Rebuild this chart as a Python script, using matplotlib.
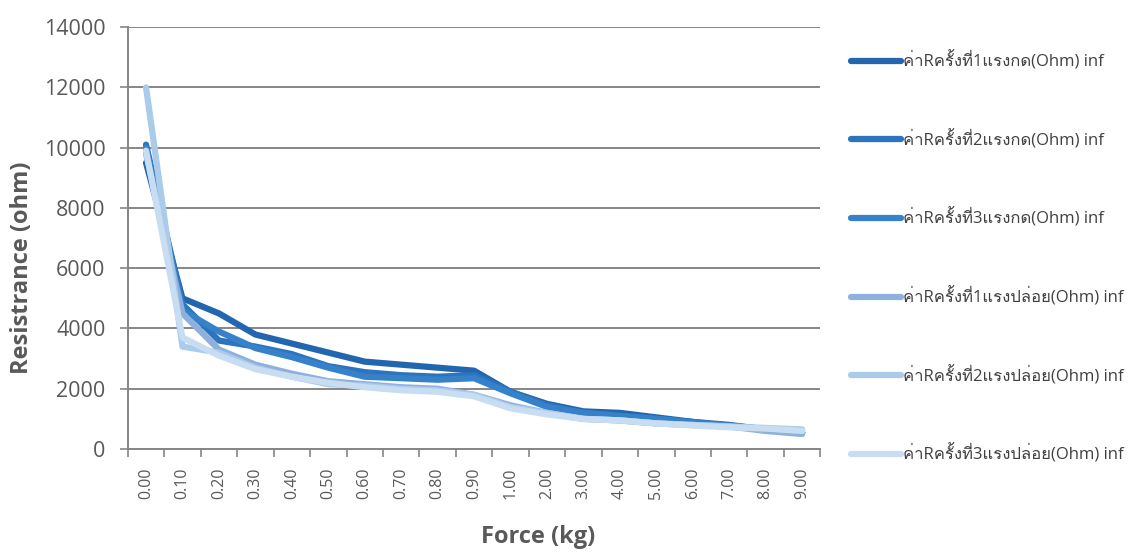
import matplotlib
matplotlib.use("Agg")
import matplotlib.pyplot as plt
from matplotlib import font_manager
from matplotlib.ft2font import FT2Font

categories = ["0.00", "0.10", "0.20", "0.30", "0.40", "0.50", "0.60", "0.70", "0.80", "0.90",
              "1.00", "2.00", "3.00", "4.00", "5.00", "6.00", "7.00", "8.00", "9.00"]

press1 = [9500, 5000, 4500, 3800, 3500, 3200, 2900, 2800, 2700, 2600, 1900, 1500, 1250, 1200, 1050, 900, 800, 650, 550]
press2 = [10100, 4800, 3600, 3400, 3150, 2750, 2550, 2450, 2400, 2450, 1900, 1450, 1200, 1100, 1000, 900, 750, 650, 550]
press3 = [10000, 4600, 3900, 3350, 3050, 2700, 2400, 2350, 2300, 2350, 1850, 1400, 1200, 1100, 1000, 880, 780, 650, 550]
release1 = [9800, 4500, 3300, 2800, 2500, 2250, 2150, 2050, 2000, 1800, 1450, 1200, 1000, 950, 850, 800, 750, 600, 500]
release2 = [12000, 3400, 3200, 2700, 2400, 2150, 2100, 2000, 1950, 1800, 1400, 1200, 1000, 950, 850, 800, 750, 700, 650]
release3 = [9900, 3700, 3100, 2650, 2400, 2200, 2050, 1950, 1900, 1750, 1350, 1150, 1000, 950, 850, 780, 720, 680, 600]

labels = [
    "ค่าRครั้งที่1แรงกด(Ohm) inf",
    "ค่าRครั้งที่2แรงกด(Ohm) inf",
    "ค่าRครั้งที่3แรงกด(Ohm) inf",
    "ค่าRครั้งที่1แรงปล่อย(Ohm) inf",
    "ค่าRครั้งที่2แรงปล่อย(Ohm) inf",
    "ค่าRครั้งที่3แรงปล่อย(Ohm) inf",
]
colors = ["#2366b0", "#2c74be", "#3582cb", "#8db0dd", "#aacbea", "#c8ddf2"]


def thai_family():
    # look for any installed font that has Thai glyphs
    for entry in font_manager.fontManager.ttflist:
        try:
            if 0x0E04 in FT2Font(entry.fname).get_charmap():
                return entry.name
        except Exception:
            continue
    return None


def main() -> None:
    thai = thai_family()
    families = ["Open Sans", "DejaVu Sans"]
    if thai:
        families = ["Open Sans", thai, "DejaVu Sans"]
    plt.rcParams["font.family"] = families

    fig = plt.figure(figsize=(11.41, 5.53), dpi=100)
    ax = fig.add_axes([0.112, 0.188, 0.607, 0.763])

    x = range(len(categories))
    for values, label, color in zip([press1, press2, press3, release1, release2, release3], labels, colors):
        ax.plot(x, values, color=color, linewidth=4.5, label=label, solid_capstyle="round")

    ax.set_xlim(-0.5, len(categories) - 0.5)
    ax.set_ylim(0, 14000)
    ax.set_yticks(range(0, 14001, 2000))
    ax.set_xticks(list(x))
    ax.set_xticklabels(categories, rotation=90, fontsize=11.5, color="#595959")
    ax.tick_params(axis="x", length=0, pad=13)
    ax.set_xticks([i - 0.5 for i in range(len(categories) + 1)], minor=True)
    ax.tick_params(axis="x", which="minor", length=6, color="#868686", width=1.2)
    ax.tick_params(axis="y", length=6, color="#868686", width=1.2, pad=10,
                   labelsize=15.5, labelcolor="#595959")

    ax.grid(axis="y", color="#868686", linewidth=1.4)
    ax.set_axisbelow(True)
    for side in ["top", "right"]:
        ax.spines[side].set_visible(False)
    for side in ["left", "bottom"]:
        ax.spines[side].set_color("#868686")
        ax.spines[side].set_linewidth(1.4)

    ax.set_ylabel("Resistrance (ohm)", fontsize=17, fontweight="bold", color="#595959")
    ax.yaxis.set_label_coords(-0.135, 0.43)
    fig.text(0.472, 0.018, "Force (kg)", fontsize=17, fontweight="bold", color="#595959", ha="center")

    fig.legend(loc="upper left", bbox_to_anchor=(0.733, 0.935), frameon=False, fontsize=12,
               handlelength=3.0, handletextpad=0.1, labelspacing=3.55, labelcolor="#404040")

    fig.savefig("out.png", dpi=100)


if __name__ == "__main__":
    main()
